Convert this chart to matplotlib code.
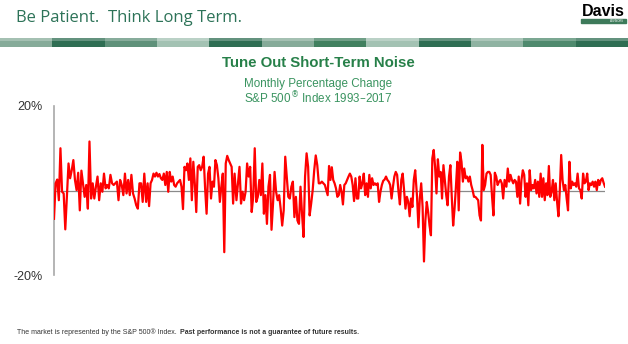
import matplotlib
matplotlib.use("Agg")
import matplotlib.pyplot as plt
from matplotlib.patches import Rectangle
import numpy as np

# monthly % change in six stretches, left to right
seg_1993 = [
    -6.7, 1.7, 2.6, -2.3, 10.0, -0.3, -0.7, -9.2, -1.5, 6.4, 2.9, 4.8, 7.2, 2.5, 0.1, 4.2,
    -4.7, 4.7, 1.7, -1.5, 1.3, -4.3, 11.6, -1.9, 1.7, -1.9, 0.9, 3.3, -2.3, 1.7, -0.3, 4.0,
    0.5, 1.3, 0.5, 3.7, 1.7, 1.3, 1.7, 2.1, -2.3, 2.5, 1.3, -1.1, 4.0, -0.7, 2.5, -1.1,
    3.7, -0.7, -1.9, -3.5, -4.3, 1.7, 1.7, -2.7, 4.0,
]
seg_1997 = [
    -2.7, 1.7, -3.7, 1.7, 2.5, 4.0, 3.3, 4.2, 3.3, 3.9, 2.9, 2.5, 4.0, 1.3, 4.4, -0.3,
    4.4, 2.1, 3.3, 1.3, 0.9, 1.7, 2.1, 2.5, 0.9, -4.4, 5.6, 4.8, 6.4, 2.5, 7.6, -2.3,
    6.8, 1.7, -5.1, 5.6, 6.0, 4.8, 5.6, 8.0, 0.5, -5.5, 4.0, 5.6, -1.9, 2.1, 0.9, 7.2,
    6.0, 2.9, -2.7, 0.9, 4.0, -14.6, 6.4, 8.2, 7.2, 6.4, 5.6, -3.1, 4.0,
]
seg_2001 = [
    -2.3, 1.7, 5.6, -3.1, -0.3, -2.3, -0.3, 6.4, 3.3, 5.6, -5.1, -1.5, 10.0, -2.7, -1.5, 2.5,
    -1.1, 6.4, -5.5, -1.1, -7.9, 0.9, 3.7, -9.3, -3.1, 4.4, -0.3, -2.3, -1.1, -4.3, -8.3, -4.7,
    8.0, 3.3, -1.5, -1.9, 0.9, 2.1, -6.3, -1.5, -7.1, -7.9, 0.9, -5.5, -11.0, 3.3, 8.8, 5.6,
    -5.9, -3.1, 0.1, 4.8, 8.3, 6.0, 1.7, 1.7, 2.1, 1.7, 1.3,
]
seg_2005 = [
    -1.1, 5.8, 2.5, 5.5, 2.5, 1.7, 0.5, -1.5, -1.1, 1.3, -0.3, -3.3, 1.3, 1.7, 2.5, 3.3,
    4.0, 3.3, 1.3, -2.5, 2.9, -1.9, -1.9, 3.3, 0.5, 1.7, 4.0, -1.1, 1.7, -1.5, 3.7, 0.5,
    2.9, 1.3, 1.7, 1.3, 1.7, -2.7, -0.3, 1.3, 2.3, 2.6, 3.3, 2.5, 2.1, 1.3, -1.9, 0.9,
    3.3, 4.4, 3.7, -0.3, -3.3, 2.5, 4.0, 0.1, -4.3, -1.5, -2.7, -6.1, -1.9, -3.9, 2.5, 4.8,
]
seg_2009 = [
    -1.5, -8.7, -1.9, 1.7, -3.9, -16.8, -7.1, -2.7, -5.1, -8.3, -10.6, 7.6, 9.6, 5.6, -0.7, 7.4,
    3.3, 4.4, -1.9, 6.0, 2.5, -1.1, -3.5, 3.3, 6.0, -1.5, -8.3, -4.3, 0.9, 6.8, -4.7, 9.0,
    6.8, 2.1, 5.2, 2.9, 3.3, 2.1, 3.3, 1.3, 0.1, -1.5, -1.5, -1.9, -2.3, -5.9, -7.1, 10.8,
    0.1, 1.3, 4.0, 4.4, 4.4, 3.7, -1.5, -5.9, 4.2, 3.3, 1.3, 2.1, 2.5, 1.7, -1.9, 2.5,
]
seg_2013 = [
    0.9, 5.2, 2.1, 3.7, 2.5, 1.7, 2.5, 2.1, -1.5, 3.3, -3.1, 2.5, 4.8, 3.7, -1.5, 1.7,
    -3.5, 4.8, 0.1, 1.3, 0.5, 2.5, -0.7, 2.1, -1.5, 4.0, -1.5, 2.9, -2.3, 1.7, -1.1, 5.8,
    -1.5, -0.3, 2.5, -2.3, 1.7, -2.7, -6.1, 0.1, 8.4, 2.5, 0.1, 1.3, -1.9, -4.7, 6.8, 0.5,
    2.1, 1.3, 1.7, 0.9, 4.0, 0.5, 0.1, -1.9, 4.0, 1.7, 2.1, 4.0, 0.1, 1.7, 1.3, 2.1,
    0.9, 2.1, 0.1, 2.5, 1.3, 2.5, 2.9, 1.8, 0.9,
]
segments = [seg_1993, seg_1997, seg_2001, seg_2005, seg_2009, seg_2013]
# month (0 = Jan 1993) where each traced stretch starts and ends
segment_months = [(0, 49), (50, 98), (99, 147), (148.5, 196), (197, 244.5), (245.5, 299)]

y_ticks = [-20, 20]
y_tick_labels = ["-20%", "20%"]

# header stripe colours (left to right)
stripe_colors = ["#86ab99", "#2f6e53", "#5f917a", "#a3c2b3", "#2f6e53", "#86ab99",
                 "#41805f", "#a3c2b3", "#2f6e53", "#8fb3a2", "#4f8a6e", "#2f6e53"]

fig = plt.figure(figsize=(6.28, 3.44), dpi=100)
W, H = 628, 344

def fx(px):
    return px / W

def fy(py):
    return 1 - py / H

# header
fig.text(fx(16), fy(18), "Be Patient.  Think Long Term.", family="Open Sans",
         fontsize=12, color="#2d7358", va="center", ha="left")
fig.text(fx(625), fy(11), "Davis", family="Liberation Sans", fontweight="bold",
         fontsize=11.5, color="black", va="center", ha="right")
fig.patches.append(Rectangle((fx(581), fy(23)), fx(45), 4 / H, transform=fig.transFigure,
                             color="#3d7a5a", zorder=2))
fig.text(fx(624), fy(21), "ADVISORS", fontsize=2, color="white", va="center",
         ha="right", zorder=3)

seg_w = W / len(stripe_colors)
for i, c in enumerate(stripe_colors):
    fig.patches.append(Rectangle((fx(i * seg_w), fy(47)), fx(seg_w), 9 / H,
                                 transform=fig.transFigure, color=c, lw=0))
    fig.patches.append(Rectangle((fx(i * seg_w), fy(41)), fx(seg_w), 3 / H,
                                 transform=fig.transFigure, color="white", alpha=0.25, lw=0))

# titles
fig.text(fx(318), fy(63), "Tune Out Short-Term Noise", family="Liberation Sans",
         fontweight="bold", fontsize=10.8, color="#278049", ha="center", va="center")
fig.text(fx(318), fy(83.5), "Monthly Percentage Change", family="Liberation Sans",
         fontsize=8.4, color="#3a9460", ha="center", va="center")
fig.text(fx(318), fy(98), "S&P 500$^{\u00ae}$ Index 1993\u20132017", family="Liberation Sans",
         fontsize=8.4, color="#3a9460", ha="center", va="center")

# chart
months = np.concatenate([np.linspace(a, b, len(s)) for (a, b), s in zip(segment_months, segments)])
values = np.concatenate(segments)

ax = fig.add_axes([fx(54), fy(275), fx(551), (275 - 106) / H])
ax.plot(months, values, color="#ff0000", lw=1.6, zorder=3)
ax.axhline(0, color="#8a8a8a", lw=0.9, zorder=2)
ax.set_xlim(months[0], months[-1])
ax.set_ylim(-20, 20)
ax.set_yticks(y_ticks)
ax.set_yticklabels(y_tick_labels, family="Liberation Sans", fontsize=9, color="#333333")
ax.set_xticks([])
ax.tick_params(axis="y", length=0, pad=8)
for s in ["top", "right", "bottom"]:
    ax.spines[s].set_visible(False)
ax.spines["left"].set_color("#a8a8a8")
ax.spines["left"].set_linewidth(1.2)

# footer: normal part then bold part right after it
t1 = fig.text(fx(17), fy(332), "The market is represented by the S&P 500\u00ae Index.",
              family="Liberation Sans", fontsize=5, color="#333333", va="center")
fig.canvas.draw()
end_px = t1.get_window_extent().x1
fig.text((end_px + 3) / W, fy(332), "Past performance is not a guarantee of future results.",
         family="Liberation Sans", fontsize=5, fontweight="bold", color="#333333",
         va="center")

fig.savefig("out.png", dpi=100)
